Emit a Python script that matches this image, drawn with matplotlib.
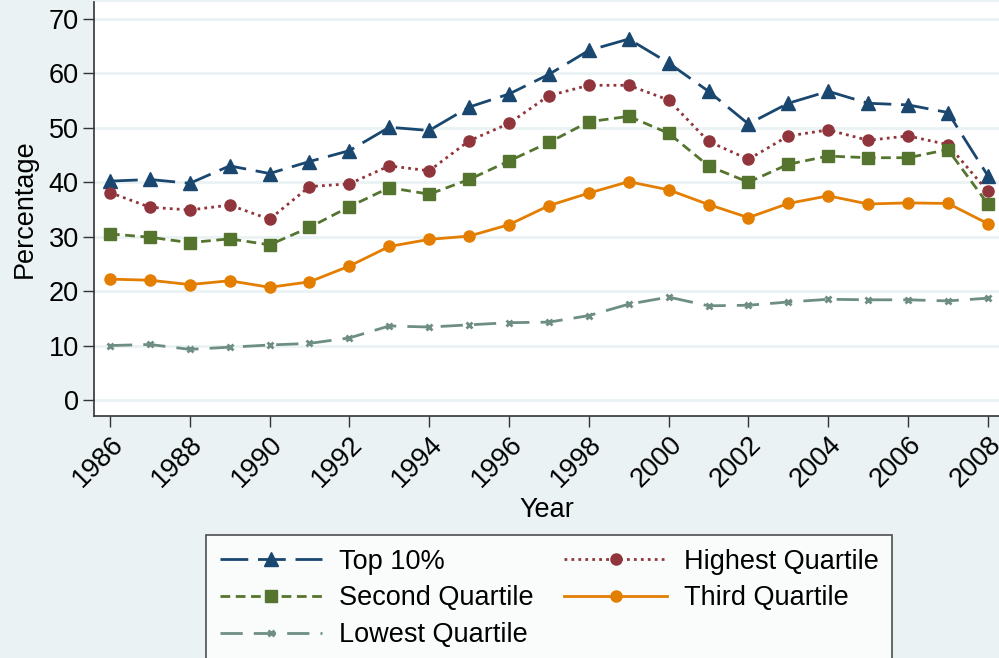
import matplotlib
matplotlib.use("Agg")
import matplotlib.pyplot as plt

plt.rcParams["font.family"] = ["Liberation Sans", "DejaVu Sans"]

years = list(range(1986, 2009))

top10 = [40.2, 40.5, 39.8, 43.0, 41.6, 43.8, 45.8, 50.1, 49.5, 53.8, 56.2, 59.8,
         64.2, 66.3, 61.9, 56.7, 50.7, 54.5, 56.7, 54.5, 54.2, 52.8, 41.2]
highest_q = [38.1, 35.4, 34.9, 35.8, 33.2, 39.2, 39.7, 43.0, 42.1, 47.6, 50.8, 55.9,
             57.8, 57.8, 55.1, 47.5, 44.2, 48.5, 49.6, 47.7, 48.5, 46.9, 38.3]
second_q = [30.5, 29.9, 28.9, 29.6, 28.5, 31.7, 35.5, 39.0, 37.8, 40.5, 43.9, 47.3,
            51.1, 52.1, 49.0, 43.0, 40.0, 43.3, 44.8, 44.5, 44.5, 46.0, 36.0]
third_q = [22.2, 22.0, 21.2, 21.9, 20.7, 21.7, 24.6, 28.2, 29.5, 30.1, 32.2, 35.7,
           38.0, 40.1, 38.6, 35.9, 33.5, 36.1, 37.5, 36.0, 36.2, 36.1, 32.4]
lowest_q = [10.0, 10.2, 9.3, 9.7, 10.1, 10.4, 11.4, 13.6, 13.4, 13.8, 14.2, 14.3,
            15.5, 17.6, 18.9, 17.3, 17.4, 18.0, 18.5, 18.4, 18.4, 18.2, 18.7]

bg = "#eaf2f3"
fs = 19.5

fig = plt.figure(figsize=(9.99, 6.58), dpi=100, facecolor=bg)
ax = fig.add_axes([94 / 999, 1 - 416 / 658, 1 - 94 / 999, 414 / 658])
ax.set_facecolor("white")

h1, = ax.plot(years, top10, color="#1a476f", lw=2.0, dashes=(10, 3.5), marker="^", ms=10,
              label="Top 10%")
h2, = ax.plot(years, highest_q, color="#90353b", lw=2.0, linestyle=(0, (1, 1.5)), marker="o",
              ms=8, label="Highest Quartile")
h3, = ax.plot(years, second_q, color="#55752f", lw=2.0, dashes=(3.5, 2), marker="s", ms=8,
              label="Second Quartile")
h4, = ax.plot(years, third_q, color="#e37e00", lw=2.0, marker="o", ms=8,
              label="Third Quartile")
h5, = ax.plot(years, lowest_q, color="#6e8e84", lw=2.0, dashes=(8, 4), marker="x", ms=5, mew=2,
              label="Lowest Quartile")

ax.set_xlim(1985.6, 2008.28)
ax.set_ylim(-2.94, 73.1)
ax.set_yticks(range(0, 80, 10))
ax.set_xticks(range(1986, 2009, 2))
ax.set_xticklabels([str(y) for y in range(1986, 2009, 2)], rotation=45, ha="right",
                   rotation_mode="anchor")
ax.tick_params(labelsize=fs, length=8, width=1, color="#333333", pad=3)
ax.grid(axis="y", color=bg, lw=2)
ax.set_axisbelow(True)
for s in ["top", "right"]:
    ax.spines[s].set_visible(False)
for s in ["left", "bottom"]:
    ax.spines[s].set_color("#333333")
    ax.spines[s].set_linewidth(1.2)

ax.set_ylabel("Percentage", fontsize=fs, labelpad=8)
ax.set_xlabel("Year", fontsize=fs, labelpad=3)

# row-wise order like the original legend
handles = [h1, h3, h5, h2, h4]
leg = fig.legend(handles=handles, labels=[h.get_label() for h in handles],
                 loc="upper left", bbox_to_anchor=(206 / 999, 1 - 535 / 658), ncol=2,
                 fontsize=fs, frameon=True, fancybox=False, edgecolor="#222222",
                 handlelength=3.8, columnspacing=1.15, labelspacing=0.4,
                 borderpad=0.5, handletextpad=0.6, borderaxespad=0)
leg.get_frame().set_linewidth(1.2)

fig.savefig("out.png", dpi=100, facecolor=bg)
